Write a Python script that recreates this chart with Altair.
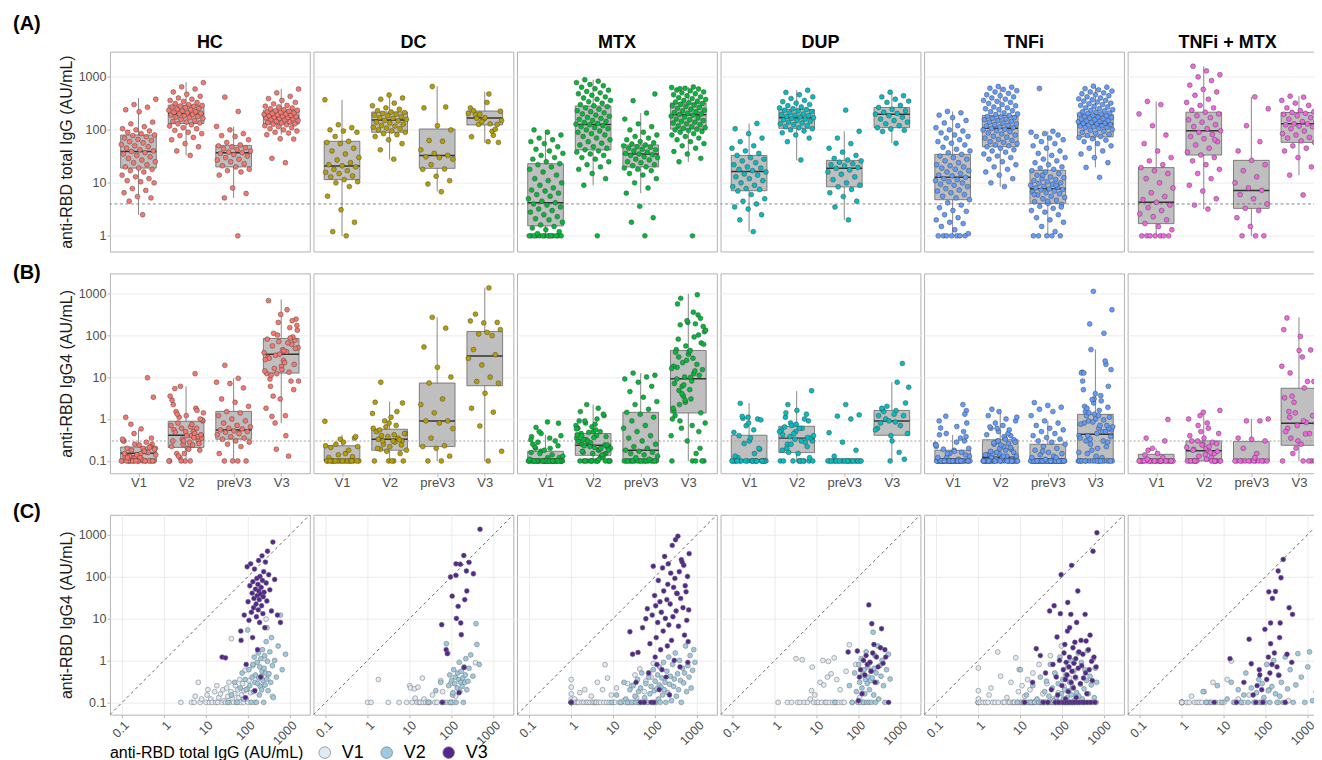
import altair as alt
import pandas as pd

FONT = "Liberation Sans"

# ---------------- categories, labels, ticks ----------------
GROUPS = ["HC", "DC", "MTX", "DUP", "TNFi", "TNFi + MTX"]
GROUP_COLORS = ["#F8766D", "#B79F00", "#00BA38", "#00BFC4", "#619CFF", "#F564E3"]
VISITS = ["V1", "V2", "preV3", "V3"]
SCATTER_VISITS = ["V1", "V2", "V3"]
SCATTER_COLORS = ["#deebf7", "#9ecae1", "#54278f"]
PANEL_TAGS = ["(A)", "(B)", "(C)"]
Y_TITLES = ["anti-RBD total IgG (AU/mL)", "anti-RBD IgG4 (AU/mL)", "anti-RBD IgG4 (AU/mL)"]
X_TITLE_C = "anti-RBD total IgG (AU/mL)"
TOTAL_TICKS = [1, 10, 100, 1000]
IGG4_TICKS = [0.1, 1, 10, 100, 1000]
TOTAL_DOMAIN = [0.506, 3000]
IGG4_DOMAIN = [0.051, 2950]
TOTAL_CUTOFF = [4]
IGG4_CUTOFF = [0.3]
IDENTITY = [0.01, 10000]

# ---------------- box statistics [low whisker, q1, median, q3, high whisker] per visit ----------------
HC_BOX_TOTAL = [[2.5, 19, 39, 80, 398], [33, 132, 201, 293, 794], [5.2, 20, 37, 51, 116], [81, 129, 174, 236, 595]]
HC_BOX_IGG4 = [[0.1, 0.1, 0.152, 0.215, 0.55], [0.1, 0.21, 0.41, 0.88, 6], [0.1, 0.33, 0.55, 1.52, 9.3], [0.79, 12.4, 35, 83, 707]]
DC_BOX_TOTAL = [[1, 11.5, 20.8, 61, 371], [27.7, 90, 154, 218, 455], [6.9, 18.8, 33, 104, 663], [57, 124, 168, 227, 527]]
DC_BOX_IGG4 = [[0.1, 0.1, 0.105, 0.23, 0.42], [0.1, 0.18, 0.33, 0.57, 2.6], [0.1, 0.22, 0.9, 7.2, 264], [0.1, 6.2, 31.6, 122, 1340]]
MTX_BOX_TOTAL = [[1, 1.54, 4.2, 23, 100], [9, 41.8, 127, 283, 885], [6.4, 20, 35, 52, 208], [24.8, 104, 194, 322, 646]]
MTX_BOX_IGG4 = [[0.1, 0.1, 0.1, 0.17, 0.42], [0.1, 0.136, 0.236, 0.45, 2.2], [0.1, 0.1, 0.18, 1.44, 12.4], [0.1, 1.39, 9.1, 43, 960]]
DUP_BOX_TOTAL = [[1.2, 7.1, 16.3, 33, 132], [26.6, 107, 169, 243, 560], [2, 8.4, 18.8, 26.6, 94], [56, 110, 198, 265, 515]]
DUP_BOX_IGG4 = [[0.1, 0.1, 0.107, 0.41, 2.4], [0.1, 0.158, 0.35, 0.67, 4.6], [0.1, 0.1, 0.103, 0.105, 0.105], [0.1, 0.41, 0.9, 1.6, 7.5]]
TNFI_BOX_TOTAL = [[1, 4.8, 12.7, 34.5, 223], [8.5, 48, 107, 187, 660], [1, 4.1, 7.7, 17.3, 94], [19.6, 74, 130, 196, 660]]
TNFI_BOX_IGG4 = [[0.1, 0.1, 0.1, 0.18, 0.42], [0.1, 0.1, 0.122, 0.32, 1.7], [0.1, 0.1, 0.1, 0.25, 0.9], [0.1, 0.108, 0.43, 1.29, 45.6]]
TM_BOX_TOTAL = [[1, 1.7, 4.3, 19.4, 344], [3.2, 33.5, 96, 216, 1590], [1, 3.3, 7.2, 26.6, 421], [14, 58, 130, 213, 433]]
TM_BOX_IGG4 = [[0.1, 0.1, 0.1, 0.144, 0.2], [0.1, 0.1, 0.176, 0.30, 1.5], [0.1, 0.1, 0.1, 0.29, 1.0], [0.1, 0.236, 0.79, 5.4, 264]]

# ---------------- individual values (total IgG and IgG4, same subject order) ----------------
HC_V1_TOTAL = [2.5, 4.5, 5.2, 5.5, 6.5, 7.2, 7.8, 10, 10.5, 11, 12, 13, 14, 16, 17, 18, 19, 20, 22, 24,
               25, 27, 29, 31, 33, 35, 37, 39, 40, 42, 45, 48, 50, 53, 57, 60, 63, 66, 70, 74,
               78, 80, 85, 90, 95, 100, 105, 115, 130, 140, 220, 240, 268, 300, 380]
HC_V1_IGG4 = [0.1, 0.1, 0.1, 0.14, 0.3, 0.1, 0.12, 0.1, 0.15, 0.2, 0.1, 0.12, 0.1, 0.18, 0.1, 0.25, 0.1, 0.13, 0.16, 0.1,
              0.2, 0.11, 0.1, 0.22, 0.14, 0.3, 0.1, 0.18, 3.3, 0.12, 0.1, 0.16, 0.25, 0.1, 0.2, 0.13, 0.35, 0.1, 0.15, 0.28,
              0.1, 0.19, 0.58, 0.12, 0.21, 0.1, 0.33, 0.17, 0.75, 0.1, 0.24, 1.1, 9.6, 0.45, 0.14]
HC_V2_TOTAL = [33, 40, 48, 55, 65, 72, 78, 85, 90, 98, 105, 110, 118, 125, 130, 135, 140, 145, 150, 158,
               165, 170, 175, 180, 185, 190, 195, 200, 205, 210, 215, 220, 228, 235, 240, 248, 255, 262, 270, 280,
               282, 290, 300, 315, 330, 345, 360, 380, 400, 430, 470, 520, 590, 650, 780]
HC_V2_IGG4 = [0.1, 0.15, 0.3, 0.1, 0.22, 0.5, 0.12, 0.35, 0.2, 5.3, 0.6, 0.25, 0.1, 0.4, 0.8, 0.18, 1.2, 0.3, 0.45, 0.1,
              0.9, 0.28, 1.5, 0.38, 0.15, 0.7, 0.24, 1.1, 0.42, 0.2, 0.55, 1.8, 0.33, 0.1, 0.65, 1.3, 0.26, 0.5, 2.8, 0.36,
              6, 0.95, 0.19, 0.48, 1.6, 0.3, 3.5, 0.75, 0.13, 1.0, 0.4, 2.2, 12, 0.6, 1.4]
HC_PREV3_TOTAL = [1, 5.2, 6.3, 8, 14, 16, 17, 18, 20, 21, 23, 25, 27, 28, 30, 32, 34, 36, 37, 38,
                  40, 42, 44, 46, 48, 50, 52, 58, 65, 75, 78, 85, 100, 116, 223, 415]
HC_PREV3_IGG4 = [0.1, 0.1, 0.1, 0.1, 0.15, 0.22, 0.25, 0.28, 0.3, 0.33, 0.35, 0.38, 0.42, 0.45, 0.48, 0.5, 0.52, 0.55, 0.58, 0.6,
                 0.65, 0.7, 0.8, 0.9, 1.0, 1.2, 1.4, 1.5, 2.0, 2.5, 3.0, 5.5, 7.0, 7.5, 9.3, 19]
HC_V3_TOTAL = [24, 29, 67, 68, 81, 87, 90, 95, 100, 105, 110, 115, 120, 125, 128, 130, 135, 138, 142, 145,
               150, 155, 158, 162, 165, 168, 172, 175, 178, 180, 185, 188, 192, 196, 200, 205, 210, 215, 220, 225,
               230, 235, 240, 250, 260, 270, 280, 290, 310, 330, 360, 390, 430, 500, 590]
HC_V3_IGG4 = [1.2, 1.15, 5, 3, 12, 0.13, 0.8, 170, 25, 9, 60, 200, 14, 40, 3.5, 75, 18, 30, 150, 0.19,
              50, 22, 11, 90, 35, 1.8, 65, 16, 240, 45, 28, 8, 100, 38, 0.4, 55, 20, 310, 80, 13,
              33, 130, 42, 6, 220, 70, 26, 400, 110, 48, 15, 660, 85, 12, 8]

DC_V1_TOTAL = [1, 1.2, 1.8, 3.1, 5.6, 8.5, 10, 10.5, 11.5, 13, 13.5, 15, 15.8, 17, 18, 20, 21, 22, 24, 27,
               30, 35, 40, 45, 55, 58, 61, 75, 90, 95, 100, 110, 125, 371]
DC_V1_IGG4 = [0.1, 0.1, 0.35, 0.1, 0.1, 0.1, 0.25, 0.22, 0.1, 0.21, 0.126, 0.1, 0.23, 0.1, 0.1, 0.38, 0.1, 0.12, 0.1, 0.1,
              0.1, 0.15, 0.1, 0.1, 0.33, 0.1, 0.18, 0.1, 0.1, 0.28, 0.1, 0.1, 0.14, 0.88]
DC_V2_TOTAL = [28, 42, 55, 65, 75, 81, 85, 90, 95, 100, 105, 108, 112, 118, 122, 128, 135, 140, 148, 152,
               158, 165, 170, 178, 185, 190, 198, 205, 212, 218, 230, 245, 260, 285, 320, 380, 400, 455]
DC_V2_IGG4 = [0.1, 0.19, 0.3, 0.1, 2.5, 1.5, 0.25, 0.45, 0.1, 0.33, 0.15, 0.17, 0.6, 0.28, 0.4, 0.1, 0.22, 0.5, 0.35, 0.9,
              0.18, 0.3, 0.55, 0.24, 0.38, 0.1, 0.7, 0.3, 0.45, 1.1, 0.2, 0.32, 0.65, 1.35, 0.42, 7.5, 2.4, 0.8]
DC_PREV3_TOTAL = [6.8, 9.5, 11, 13.3, 18, 18.3, 22, 28, 30, 31, 33, 36, 42, 61, 63, 100, 120, 260, 270, 660]
DC_PREV3_IGG4 = [0.1, 0.1, 0.13, 0.2, 0.22, 0.23, 0.35, 0.59, 0.8, 0.9, 0.9, 1.4, 2.2, 3.0, 7.2, 10, 17, 52, 146, 264]
DC_V3_TOTAL = [475, 195, 127, 160, 260, 94, 127, 225, 330, 230, 103, 143, 205, 130, 165, 58, 170, 74, 79, 198, 150, 60]
DC_V3_IGG4 = [1330, 315, 200, 195, 217, 97, 106, 135, 116, 45, 34, 19.4, 28, 10, 7.8, 7.1, 4.1, 1.8, 1.45, 0.68, 0.17, 0.1]

MTX_V1_TOTAL = [1, 1, 1, 1, 1, 1, 1, 1, 1, 1, 1, 1, 1, 1,
                1.1, 1.2, 1.3, 1.4, 1.5, 1.6, 1.8, 2, 2.1, 2.3, 2.5, 2.8, 3, 3.2, 3.5, 3.8, 4, 4.2,
                4.5, 5, 5.6, 6, 6.4, 7, 7.3, 8, 9, 10, 11, 12, 14, 16, 18, 20, 22, 23,
                25, 28, 30, 33, 36, 40, 43, 48, 55, 60, 65, 70, 80, 90, 100]
MTX_V1_IGG4 = [0.35, 0.1, 0.23, 0.1, 0.16, 0.1, 0.1, 0.1, 0.12, 0.1, 0.1, 0.1, 0.1, 0.1,
               0.1, 0.12, 0.1, 0.1, 0.1, 0.17, 0.1, 0.1, 0.2, 0.1, 0.1, 0.1, 0.14, 0.1, 0.1, 0.1, 0.1, 0.3,
               0.1, 0.1, 0.2, 0.1, 0.79, 0.1, 0.38, 0.1, 0.15, 0.1, 0.1, 0.22, 0.1, 0.1, 0.11, 0.1, 0.28, 0.1,
               0.1, 0.25, 0.1, 0.45, 0.13, 0.1, 0.63, 0.1, 0.18, 0.32, 0.1, 0.5, 0.4, 0.85, 0.1]
MTX_V2_TOTAL = [1, 9, 12, 15, 18, 20, 22, 25, 28, 30, 33, 35, 38, 40, 42, 45, 48, 52, 56, 60,
                65, 70, 75, 80, 85, 90, 95, 100, 105, 110, 115, 120, 125, 128, 132, 138, 145, 150, 158, 165,
                172, 180, 190, 200, 210, 220, 230, 245, 260, 275, 285, 300, 320, 340, 360, 380, 400, 420, 450, 480,
                500, 530, 560, 600, 640, 680, 720, 780, 830, 885]
MTX_V2_IGG4 = [0.1, 0.1, 0.15, 0.1, 0.3, 0.12, 0.1, 0.2, 0.1, 0.25, 0.14, 0.1, 0.35, 0.18, 0.1, 0.22, 0.5, 0.1, 0.13, 0.28,
               0.1, 0.4, 0.16, 0.24, 0.1, 0.6, 0.19, 0.32, 0.1, 0.21, 0.45, 0.12, 0.26, 0.7, 0.1, 0.23, 0.38, 0.15, 0.9, 0.2,
               0.3, 0.1, 0.55, 0.17, 1.2, 0.27, 0.42, 0.11, 0.8, 0.24, 0.36, 1.5, 0.14, 0.48, 0.2, 1.0, 0.33, 0.1, 0.65, 0.29,
               0.5, 2.2, 0.18, 0.75, 0.4, 1.3, 0.22, 0.58, 1.8, 0.9]
MTX_PREV3_TOTAL = [1, 1.8, 2.2, 3.6, 6.4, 8, 10, 12, 14, 15, 17, 18, 19, 20, 21, 22, 24, 25, 27, 28,
                   30, 31, 33, 34, 35, 36, 38, 40, 42, 43, 45, 47, 48, 50, 52, 54, 57, 60, 65, 70,
                   75, 80, 90, 100, 115, 130, 160, 208, 356, 476]
MTX_PREV3_IGG4 = [0.1, 0.1, 0.1, 0.1, 0.1, 0.1, 0.1, 0.1, 0.1, 0.1, 0.1, 0.1, 0.1, 0.1, 0.1, 0.1, 0.1, 0.1,
                  0.11, 0.12, 0.13, 0.14, 0.15, 0.16, 0.17, 0.18, 0.2, 0.22, 0.25, 0.3, 0.35, 0.4, 0.5, 0.6,
                  0.7, 0.9, 1.1, 1.3, 1.44, 1.7, 2.2, 2.6, 3.3, 4.5, 6, 7.5, 9, 10, 12.4, 11]
MTX_V3_TOTAL = [1, 25, 29, 35, 39, 45, 50, 55, 60, 65, 70, 75, 80, 85, 90, 93, 97, 100, 103, 106,
                110, 115, 119, 125, 130, 135, 140, 145, 150, 155, 160, 168, 175, 182, 190, 195, 200, 205, 212, 220,
                228, 235, 245, 255, 265, 275, 285, 295, 305, 315, 325, 335, 348, 360, 375, 390, 405, 420, 440, 460,
                480, 500, 520, 545, 565, 590, 610, 630, 646, 600]
MTX_V3_IGG4 = [0.1, 4.8, 1.4, 0.3, 1.55, 0.1, 6, 0.1, 9.8, 17, 0.5, 2.5, 0.1, 12, 175, 0.1, 35, 1.2, 20, 3.5,
               0.8, 8, 80, 0.2, 25, 1.8, 14, 0.6, 160, 5, 45, 300, 10, 0.4, 28, 2.2, 65, 200, 7, 0.15,
               22, 120, 3, 550, 11, 55, 1, 90, 750, 15, 40, 39, 910, 6.5, 130, 0.7, 30, 250, 220, 18,
               185, 4, 60, 43, 9, 100, 2.8, 16, 350, 0.9]

DUP_V1_TOTAL = [1.2, 2, 2.5, 3.2, 3.5, 4, 4.5, 5, 6, 7, 7.5, 7.8, 8.5, 9, 10, 11, 12, 13, 14, 14.7,
                16, 17, 18, 19, 20, 22, 24, 26, 28, 30, 33, 36, 40, 45, 50, 60, 70, 85, 105, 132]
DUP_V1_IGG4 = [0.1, 0.1, 0.1, 1.1, 0.1, 0.1, 1.04, 0.1, 0.1, 0.12, 0.19, 0.69, 0.1, 0.15, 0.1, 0.1, 0.3, 0.1, 1.0, 0.26,
               0.1, 0.1, 0.4, 0.95, 0.1, 0.48, 0.1, 1.15, 0.1, 0.35, 0.1, 0.2, 0.1, 0.1, 0.55, 2.36, 0.1, 0.8, 0.13, 0.1]
DUP_V2_TOTAL = [27, 60, 70, 80, 88, 95, 100, 105, 110, 115, 120, 125, 130, 135, 140, 145, 150, 155, 160, 165,
                170, 175, 180, 185, 190, 195, 200, 210, 220, 228, 235, 243, 250, 260, 270, 285, 300, 320, 340, 360,
                390, 420, 460, 510, 560]
DUP_V2_IGG4 = [0.1, 0.25, 0.1, 0.5, 0.18, 0.1, 0.8, 0.3, 0.1, 1.1, 0.22, 0.45, 0.1, 0.6, 0.16, 0.35, 1.6, 0.1, 0.28, 0.7,
               0.4, 0.1, 0.2, 0.9, 0.33, 0.55, 0.1, 0.38, 4.7, 0.15, 0.65, 1.3, 0.1, 0.5, 0.3, 2.2, 0.12, 0.75, 0.42, 1.0,
               0.25, 0.1, 0.6, 1.4, 0.36]
DUP_PREV3_TOTAL = [2, 3.5, 4.5, 5.5, 6.5, 7.5, 8.4, 9, 10, 11.5, 13, 14.5, 16, 17.5, 18.8, 19.5, 21, 22, 23, 24.5,
                   26, 27, 29, 33, 38, 45, 55, 70, 94, 236]
DUP_PREV3_IGG4 = [0.1, 0.1, 0.1, 0.1, 0.1, 0.1, 0.1, 0.1, 0.1, 0.1, 0.1, 0.1, 0.1, 0.1, 0.1, 0.1, 0.1, 0.1, 0.1, 0.1,
                  0.1, 0.1, 0.13, 0.18, 0.28, 0.47, 1.0, 1.17, 1.25, 2.2]
DUP_V3_TOTAL = [56, 93, 98, 104, 110, 120, 130, 140, 150, 160, 174, 185, 198, 205, 215, 230, 245, 265, 290, 330,
                350, 380, 420, 440, 515]
DUP_V3_IGG4 = [1.58, 1.67, 0.11, 0.4, 0.6, 0.16, 1.0, 0.45, 1.3, 0.8, 21, 0.9, 0.55, 7.5, 1.5, 2.4, 0.3, 1.2, 0.7, 2.0,
               5.7, 0.85, 1.8, 1.2, 0.1]

TNFI_V1_TOTAL = [1, 1, 1, 1, 1, 1, 1, 1.1, 1.3, 1.5, 1.7, 1.8, 2, 2.2, 2.5, 2.9, 3, 3.4, 3.8, 4.2,
                 4.8, 5.2, 5.6, 6, 6.5, 7, 7.3, 7.8, 8.5, 9, 9.4, 10, 10.5, 11, 11.5, 12, 12.7, 13.5, 14, 15,
                 16, 17, 18, 19, 20, 21, 22, 24, 26, 28, 30, 32, 34.5, 37, 40, 43, 47, 52, 56, 60,
                 65, 70, 75, 80, 88, 95, 100, 110, 120, 135, 150, 170, 190, 210, 223]
TNFI_V1_IGG4 = [0.66, 0.19, 0.1, 0.1, 0.1, 0.1, 0.12, 0.1, 0.1, 0.1, 0.1, 0.15, 0.22, 0.1, 0.1, 1.58, 0.1, 0.42, 0.1, 0.1,
                0.13, 0.1, 0.1, 0.3, 0.1, 0.1, 0.1, 1.16, 0.1, 0.18, 0.61, 0.1, 0.1, 0.25, 0.1, 0.1, 0.14, 0.1, 0.1, 0.35,
                0.1, 0.2, 0.1, 0.1, 0.5, 0.1, 0.1, 0.11, 0.1, 0.8, 0.1, 0.1, 0.16, 0.1, 0.1, 0.28, 0.1, 1.3, 0.1, 0.12,
                0.1, 0.45, 0.1, 0.17, 0.1, 2.2, 0.1, 0.24, 0.1, 0.1, 0.38, 0.1, 0.9, 0.1, 0.15]
TNFI_V2_TOTAL = [8.5, 10, 12, 14, 16, 18, 20, 22, 25, 28, 30, 32, 35, 38, 40, 42, 45, 48, 50, 52,
                 55, 58, 60, 63, 66, 70, 73, 76, 80, 84, 88, 92, 96, 100, 103, 107, 110, 114, 118, 122,
                 126, 130, 135, 140, 145, 150, 155, 160, 165, 170, 175, 180, 187, 195, 200, 210, 220, 230, 240, 250,
                 260, 270, 285, 300, 315, 330, 345, 360, 380, 400, 420, 440, 460, 490, 520, 550, 580, 610, 640, 660]
TNFI_V2_IGG4 = [0.1, 0.6, 0.1, 0.15, 0.1, 0.1, 0.25, 0.1, 0.12, 0.1, 0.4, 0.1, 0.1, 0.18, 0.1, 0.32, 0.1, 0.14, 0.1, 0.8,
                0.1, 0.22, 0.1, 0.11, 0.5, 0.1, 0.13, 0.1, 0.28, 0.1, 1.2, 0.1, 0.16, 0.1, 0.35, 0.12, 0.1, 0.2, 0.1, 0.45,
                0.1, 0.13, 0.7, 0.1, 0.19, 0.3, 0.1, 1.0, 0.15, 0.1, 0.24, 0.1, 0.55, 0.11, 0.1, 0.38, 0.17, 0.1, 1.5, 0.14,
                0.1, 0.27, 0.9, 0.12, 0.1, 0.21, 0.6, 0.1, 0.33, 1.7, 0.16, 0.1, 0.42, 0.26, 0.1, 1.1, 0.13, 0.65, 0.1, 0.3]
TNFI_PREV3_TOTAL = [1, 1, 1, 1, 1, 1.2, 1.5, 1.8, 2, 2.2, 2.5, 2.8, 3, 3.3, 3.6, 3.9, 4.1, 4.4, 4.7, 5,
                    5.3, 5.6, 5.9, 6.2, 6.5, 6.8, 7, 7.3, 7.5, 7.7, 8, 8.3, 8.6, 9, 9.4, 9.8, 10, 10.5, 11, 11.5,
                    12, 12.5, 13, 14, 15, 16, 17, 18, 19, 20, 22, 24, 26, 28, 30, 33, 36, 40, 45, 50,
                    55, 60, 65, 70, 75, 80, 85, 90, 94, 604, 3.5, 4.5, 6, 9, 14]
TNFI_PREV3_IGG4 = [0.1, 0.1, 0.1, 0.1, 0.1, 0.1, 0.1, 0.1, 0.1, 0.1, 0.1, 0.1, 0.1, 0.1, 0.1, 0.1, 0.1, 0.1, 0.1, 0.1,
                   0.1, 0.1, 0.1, 0.1, 0.1, 0.1, 0.1, 0.1, 0.1, 0.1, 0.1, 0.1, 0.1, 0.1, 0.1, 0.1, 0.1, 0.1, 0.1, 0.1,
                   0.1, 0.1, 0.1, 0.1, 0.1, 0.11, 0.12, 0.13, 0.14, 0.15, 0.16, 0.18, 0.2, 0.22, 0.25, 0.28, 0.3, 0.33, 0.36, 0.4,
                   0.45, 0.5, 0.55, 0.6, 0.7, 0.8, 0.9, 1.2, 1.5, 1.7, 1.9, 2.1, 2.45, 0.12, 0.17]
TNFI_V3_TOTAL = [12.7, 19.6, 24, 30, 35, 40, 45, 50, 55, 60, 64, 68, 72, 75, 78, 82, 86, 90, 94, 98,
                 102, 106, 110, 112, 115, 118, 120, 124, 127, 130, 133, 135, 138, 142, 145, 148, 150, 155, 160, 163,
                 167, 170, 175, 180, 185, 190, 196, 200, 205, 210, 215, 220, 228, 235, 240, 250, 260, 270, 280, 290,
                 300, 310, 320, 335, 350, 360, 370, 385, 400, 420, 440, 460, 480, 500, 520, 540, 570, 600, 640, 670]
TNFI_V3_IGG4 = [0.1, 0.3, 1.9, 1.3, 0.1, 0.5, 0.1, 15, 0.2, 0.8, 20, 0.1, 0.4, 3.6, 0.15, 0.1, 1.0, 13, 110, 0.25,
                0.1, 0.6, 1.5, 0.1, 2.4, 0.35, 0.12, 0.9, 0.1, 0.45, 5, 24, 0.18, 0.1, 0.7, 1.2, 6, 0.1, 12.5, 0.3,
                184, 0.55, 0.1, 2, 0.22, 0.85, 0.1, 2.7, 0.4, 1.1, 0.13, 8, 0.1, 45, 0.65, 1.6, 0.1, 0.28, 3, 0.75,
                0.1, 1.4, 0.38, 0.1, 12.5, 0.5, 2.9, 0.16, 0.1, 1.8, 0.6, 4, 0.1, 0.95, 0.33, 400, 1.2, 0.1, 0.7, 1100]

TM_V1_TOTAL = [1, 1, 1, 1, 1, 1, 1, 1.3, 1.5, 1.7, 2, 2.3, 2.6, 3, 3.4, 3.8, 4.3, 4.8, 5.5, 6.5,
               8, 10, 12, 15, 17, 19.4, 22, 26, 30, 40, 55, 80, 120, 200, 300, 344]
TM_V1_IGG4 = [0.1, 0.1, 0.1, 0.1, 0.1, 0.1, 0.1, 0.1, 0.1, 0.14, 0.1, 0.1, 0.1, 0.1, 0.18, 0.1, 0.1, 0.1, 0.3, 0.1,
              0.1, 0.1, 0.35, 0.97, 0.1, 0.1, 0.12, 0.1, 0.1, 0.15, 0.1, 0.1, 0.2, 0.1, 0.1, 0.11]
TM_V2_TOTAL = [3.2, 3.8, 5, 7, 9, 12, 15, 18, 22, 26, 30, 33.5, 38, 45, 52, 60, 68, 75, 82, 90,
               96, 105, 115, 125, 140, 155, 170, 185, 200, 216, 235, 260, 290, 330, 380, 450, 520, 580, 700, 850,
               1000, 1100, 1300, 1590, 65]
TM_V2_IGG4 = [0.18, 0.1, 0.1, 0.25, 0.1, 0.12, 0.3, 0.1, 0.2, 0.1, 0.15, 0.5, 0.1, 0.22, 0.1, 0.17, 0.35, 0.1, 0.28, 0.13,
              0.1, 0.8, 0.19, 0.1, 0.24, 1.0, 0.16, 0.1, 0.45, 0.14, 0.3, 0.1, 1.2, 0.21, 0.6, 0.1, 0.26, 1.45, 0.4, 0.1,
              0.7, 1.6, 0.11, 0.18, 0.1]
TM_PREV3_TOTAL = [1, 1, 1, 1.5, 2.2, 3, 3.3, 4, 5, 6, 7.2, 8, 10, 13, 17, 22, 26.6, 40, 60, 120, 250, 421]
TM_PREV3_IGG4 = [0.1, 0.1, 0.1, 0.1, 0.1, 0.1, 0.1, 0.1, 0.1, 0.1, 0.1, 0.1, 0.1, 0.15, 0.2, 0.3, 0.33, 0.35, 0.9, 0.9,
                 1.0, 0.12]
TM_V3_TOTAL = [5.9, 14, 20, 30, 40, 45, 50, 58, 62, 70, 72, 80, 85, 95, 105, 115, 118, 125, 130, 130,
               140, 144, 160, 170, 185, 197, 205, 213, 220, 230, 260, 290, 320, 360, 415, 433]
TM_V3_IGG4 = [0.1, 1.1, 0.1, 0.3, 3.2, 0.83, 0.15, 0.1, 0.25, 0.6, 0.45, 0.2, 0.1, 5.5, 0.35, 1.2, 43, 0.5, 7.8, 2.5,
              0.8, 30, 1.5, 44, 0.7, 135, 0.44, 3.5, 7.8, 93, 255, 0.1, 1.4, 18, 0.9, 12.5]

# ---------------- assemble tables ----------------
POINTS = {
    "HC": [(HC_V1_TOTAL, HC_V1_IGG4), (HC_V2_TOTAL, HC_V2_IGG4), (HC_PREV3_TOTAL, HC_PREV3_IGG4), (HC_V3_TOTAL, HC_V3_IGG4)],
    "DC": [(DC_V1_TOTAL, DC_V1_IGG4), (DC_V2_TOTAL, DC_V2_IGG4), (DC_PREV3_TOTAL, DC_PREV3_IGG4), (DC_V3_TOTAL, DC_V3_IGG4)],
    "MTX": [(MTX_V1_TOTAL, MTX_V1_IGG4), (MTX_V2_TOTAL, MTX_V2_IGG4), (MTX_PREV3_TOTAL, MTX_PREV3_IGG4), (MTX_V3_TOTAL, MTX_V3_IGG4)],
    "DUP": [(DUP_V1_TOTAL, DUP_V1_IGG4), (DUP_V2_TOTAL, DUP_V2_IGG4), (DUP_PREV3_TOTAL, DUP_PREV3_IGG4), (DUP_V3_TOTAL, DUP_V3_IGG4)],
    "TNFi": [(TNFI_V1_TOTAL, TNFI_V1_IGG4), (TNFI_V2_TOTAL, TNFI_V2_IGG4), (TNFI_PREV3_TOTAL, TNFI_PREV3_IGG4), (TNFI_V3_TOTAL, TNFI_V3_IGG4)],
    "TNFi + MTX": [(TM_V1_TOTAL, TM_V1_IGG4), (TM_V2_TOTAL, TM_V2_IGG4), (TM_PREV3_TOTAL, TM_PREV3_IGG4), (TM_V3_TOTAL, TM_V3_IGG4)],
}
BOXES = {
    "HC": (HC_BOX_TOTAL, HC_BOX_IGG4), "DC": (DC_BOX_TOTAL, DC_BOX_IGG4), "MTX": (MTX_BOX_TOTAL, MTX_BOX_IGG4),
    "DUP": (DUP_BOX_TOTAL, DUP_BOX_IGG4), "TNFi": (TNFI_BOX_TOTAL, TNFI_BOX_IGG4), "TNFi + MTX": (TM_BOX_TOTAL, TM_BOX_IGG4),
}

a_rows, b_rows, c_rows, box_rows = [], [], [], []
for g in GROUPS:
    for vi, v in enumerate(VISITS, start=1):
        tot, g4 = POINTS[g][vi - 1]
        a_rows += [{"group": g, "vi": vi, "val": t} for t in tot]
        b_rows += [{"group": g, "vi": vi, "val": s} for s in g4]
        for meas, stats in zip(["total", "igg4"], BOXES[g]):
            lo, q1, md, q3, hi = stats[vi - 1]
            box_rows.append({"group": g, "measure": meas, "vi": vi, "lo": lo, "q1": q1, "med": md, "q3": q3, "hi": hi})
    for v in SCATTER_VISITS:
        tot, g4 = POINTS[g][VISITS.index(v)]
        c_rows += [{"group": g, "visit": v, "total": t, "igg4": s} for t, s in zip(tot, g4)]

A_DF = pd.DataFrame(a_rows)
B_DF = pd.DataFrame(b_rows)
C_DF = pd.DataFrame(c_rows)
BOX_DF = pd.DataFrame(box_rows)

# ---------------- styling ----------------
PANEL_W = 200
PANEL_H = 200
H_SPACING = 3.7
BOX_HALF = 0.375
JITTER = 0.74
X_DOMAIN = [0.4, 4.6]
TAG_X = -97
TAG_Y = [-37.4, -10.4, -12.4]
XLABEL_EXPR = "[" + ",".join("'%s'" % v for v in VISITS) + "][datum.value - 1]"


def tag_layer(row):
    return alt.Chart(pd.DataFrame({"tag": [PANEL_TAGS[row]]})).mark_text(
        x=TAG_X, y=TAG_Y[row], align="left", baseline="top", fontSize=20, fontWeight="bold", color="#000000"
    ).encode(text="tag:N")


def name_layer(gi):
    return alt.Chart(pd.DataFrame({"name": [GROUPS[gi]]})).mark_text(
        x=PANEL_W / 2, y=-3.5, align="center", baseline="alphabetic", fontSize=18, fontWeight="bold",
        color="#000000"
    ).encode(text="name:N")


def box_panel(gi, measure, row):
    g = GROUPS[gi]
    first = gi == 0
    if measure == "total":
        pts = A_DF[A_DF.group == g]
        dom, ticks, cut, ytitle = TOTAL_DOMAIN, TOTAL_TICKS, TOTAL_CUTOFF, Y_TITLES[0]
        cut_mark = dict(color="#555555", strokeDash=[3, 2.5], strokeWidth=0.7)
    else:
        pts = B_DF[B_DF.group == g]
        dom, ticks, cut, ytitle = IGG4_DOMAIN, IGG4_TICKS, IGG4_CUTOFF, Y_TITLES[1]
        cut_mark = dict(color="#a0a0a0", strokeDash=[2, 2], strokeWidth=1.1)
    boxes = BOX_DF[(BOX_DF.group == g) & (BOX_DF.measure == measure)]

    ys = alt.Scale(type="log", domain=dom, nice=False)
    ya = alt.Axis(values=ticks, format="~g", title=ytitle if first else None, labels=first, ticks=first,
                  grid=True, domain=False, titlePadding=4)
    xs = alt.Scale(domain=X_DOMAIN, nice=False, zero=False)
    if row == 0:
        xa = None
    else:
        xa = alt.Axis(values=[1, 2, 3, 4], labelExpr=XLABEL_EXPR, grid=False, title=None, domain=False,
                      tickSize=3, labelPadding=0, labelFontSize=13)

    whisk = alt.Chart(boxes).mark_rule(color="#7a7a7a", strokeWidth=0.9).encode(
        x=alt.X("vi:Q", scale=xs, axis=xa), y=alt.Y("lo:Q", scale=ys, axis=ya), y2="hi:Q")
    box = alt.Chart(boxes).transform_calculate(
        xl="datum.vi - %s" % BOX_HALF, xr="datum.vi + %s" % BOX_HALF
    ).mark_bar(fill="#bfbfbf", stroke="#666666", strokeWidth=0.8, opacity=1).encode(
        x=alt.X("xl:Q", scale=xs, axis=xa), x2="xr:Q", y=alt.Y("q1:Q", scale=ys, axis=ya), y2="q3:Q")
    med = alt.Chart(boxes).transform_calculate(
        xl="datum.vi - %s" % BOX_HALF, xr="datum.vi + %s" % BOX_HALF
    ).mark_rule(color="#333333", strokeWidth=1.5).encode(
        x=alt.X("xl:Q", scale=xs, axis=xa), x2="xr:Q", y=alt.Y("med:Q", scale=ys, axis=ya))
    cutl = alt.Chart(pd.DataFrame({"cut": cut})).mark_rule(**cut_mark).encode(
        y=alt.Y("cut:Q", scale=ys, axis=ya))
    dots = alt.Chart(pts).transform_window(
        rn="row_number()", groupby=["vi"]
    ).transform_calculate(
        xj="datum.vi + (((datum.rn * 0.6180339887) %% 1) - 0.5) * %s" % JITTER
    ).mark_circle(size=24, opacity=1, fill=GROUP_COLORS[gi], stroke="#3d3d3d", strokeWidth=0.45).encode(
        x=alt.X("xj:Q", scale=xs, axis=xa), y=alt.Y("val:Q", scale=ys, axis=ya))

    layers = [whisk, box, med, cutl, dots]
    if row == 0:
        layers.append(name_layer(gi))
    if first:
        layers.append(tag_layer(row))
    return alt.layer(*layers).properties(width=PANEL_W, height=PANEL_H)


def scatter_panel(gi):
    g = GROUPS[gi]
    first = gi == 0
    df = C_DF[C_DF.group == g]
    s = alt.Scale(type="log", domain=IGG4_DOMAIN, nice=False)
    xa = alt.Axis(values=IGG4_TICKS, format="~g", title=None, labelAngle=-45, labelAlign="right",
                  labelBaseline="top", grid=True, domain=False, tickSize=3, labelPadding=1)
    ya = alt.Axis(values=IGG4_TICKS, format="~g", title=Y_TITLES[2] if first else None, labels=first,
                  ticks=first, grid=True, domain=False, titlePadding=4)
    if first:
        legend = alt.Legend(title=X_TITLE_C, orient="none", legendX=0, legendY=229, direction="horizontal",
                            titleOrient="left", titleFontSize=16, titleFontWeight="normal", titleColor="#000000",
                            titlePadding=12, titleLimit=500, labelFontSize=18, labelColor="#000000", labelOffset=8,
                            symbolSize=135, symbolType="circle", symbolStrokeColor="#7a7a7a",
                            symbolStrokeWidth=0.7, columnPadding=13, padding=0)
    else:
        legend = None
    diag = alt.Chart(pd.DataFrame({"a": IDENTITY})).mark_line(
        clip=True, color="#404040", strokeDash=[3, 3], strokeWidth=0.8
    ).encode(x=alt.X("a:Q", scale=s, axis=xa), y=alt.Y("a:Q", scale=s, axis=ya))
    dots = alt.Chart(df).mark_circle(size=24, opacity=1, stroke="#6b6b6b", strokeWidth=0.5).encode(
        x=alt.X("total:Q", scale=s, axis=xa),
        y=alt.Y("igg4:Q", scale=s, axis=ya),
        color=alt.Color("visit:N", scale=alt.Scale(domain=SCATTER_VISITS, range=SCATTER_COLORS), legend=legend),
    )
    layers = [diag, dots]
    if first:
        layers.append(tag_layer(2))
    return alt.layer(*layers).properties(width=PANEL_W, height=PANEL_H)


row_a = alt.hconcat(*[box_panel(i, "total", 0) for i in range(6)], spacing=H_SPACING, bounds="flush")
row_b = alt.hconcat(*[box_panel(i, "igg4", 1) for i in range(6)], spacing=H_SPACING, bounds="flush")
row_c = alt.hconcat(*[scatter_panel(i) for i in range(6)], spacing=H_SPACING, bounds="flush").resolve_scale(
    color="independent")

# the last panel runs past the page edge in the reference: a negative right padding keeps the
# drawing at its true size (the overflow is clipped) instead of letting the page shrink it
chart = alt.vconcat(
    alt.vconcat(row_a, row_b, spacing=9.9),
    row_c, spacing=11.5
).properties(
    padding={"left": 4, "top": 5.4, "right": -15, "bottom": 0}, background="#ffffff"
).configure(font=FONT).configure_view(
    stroke="#b3b3b3", strokeWidth=1
).configure_axis(
    domain=False, tickColor="#b3b3b3", tickSize=3, tickWidth=1, labelColor="#4d4d4d", labelFontSize=12.5,
    labelFont=FONT, gridColor="#ebebeb", gridWidth=1, titleColor="#1a1a1a", titleFontSize=16,
    titleFontWeight="normal", titleFont=FONT, labelPadding=1
)

chart.save("out.html", embed_options={"renderer": "svg", "actions": False})
